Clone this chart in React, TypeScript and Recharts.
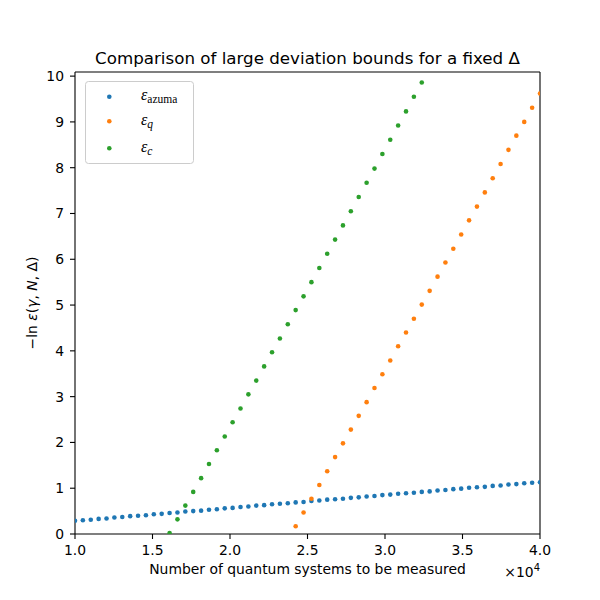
import { ScatterChart, Scatter, XAxis, YAxis, ReferenceLine } from "recharts";

// number of measured systems, N (60 evenly spaced values, 1e4 .. 4e4)
const nValues = [
  10000, 10508, 11017, 11525, 12034, 12542, 13051, 13559, 14068, 14576,
  15085, 15593, 16102, 16610, 17119, 17627, 18136, 18644, 19153, 19661,
  20169, 20678, 21186, 21695, 22203, 22712, 23220, 23729, 24237, 24746,
  25254, 25763, 26271, 26780, 27288, 27797, 28305, 28814, 29322, 29831,
  30339, 30847, 31356, 31864, 32373, 32881, 33390, 33898, 34407, 34915,
  35424, 35932, 36441, 36949, 37458, 37966, 38475, 38983, 39492, 40000,
];

const epsAzuma = [
  0.29, 0.3, 0.31, 0.33, 0.34, 0.36, 0.37, 0.39, 0.4, 0.41,
  0.43, 0.44, 0.46, 0.47, 0.49, 0.5, 0.51, 0.53, 0.54, 0.56,
  0.57, 0.59, 0.6, 0.62, 0.63, 0.65, 0.66, 0.67, 0.69, 0.7,
  0.72, 0.73, 0.75, 0.76, 0.77, 0.79, 0.8, 0.82, 0.83, 0.85,
  0.86, 0.88, 0.89, 0.9, 0.92, 0.93, 0.95, 0.96, 0.98, 0.99,
  1.01, 1.02, 1.03, 1.05, 1.06, 1.08, 1.09, 1.11, 1.12, 1.13,
];

// eps_q only positive from the 29th N onwards
const epsQStart = 28;
const epsQ = [
  0.17, 0.47, 0.77, 1.07, 1.37, 1.68, 1.98, 2.28, 2.58, 2.88,
  3.19, 3.49, 3.79, 4.1, 4.4, 4.7, 5.01, 5.31, 5.62, 5.93,
  6.23, 6.54, 6.85, 7.15, 7.46, 7.77, 8.08, 8.39, 8.7, 9.0,
  9.31, 9.62,
];

// eps_c from the 13th N, stops once it leaves the plot
const epsCStart = 12;
const epsC = [
  0.02, 0.32, 0.62, 0.92, 1.22, 1.53, 1.83, 2.13, 2.44, 2.74,
  3.05, 3.35, 3.66, 3.97, 4.27, 4.58, 4.89, 5.19, 5.5, 5.81,
  6.12, 6.43, 6.74, 7.05, 7.36, 7.67, 7.98, 8.3, 8.61, 8.92,
  9.23, 9.55, 9.86,
];

const xTicks = [10000, 15000, 20000, 25000, 30000, 35000, 40000];
const yTicks = [0, 1, 2, 3, 4, 5, 6, 7, 8, 9, 10];
const yMax = 10.09;

const azumaData = nValues.map((n, i) => ({ n, v: epsAzuma[i] }));
const qData = epsQ.map((v, i) => ({ n: nValues[epsQStart + i], v }));
const cData = epsC.map((v, i) => ({ n: nValues[epsCStart + i], v }));

const BLUE = "#1f77b4";
const ORANGE = "#ff7f0e";
const GREEN = "#2ca02c";

const font = "'DejaVu Sans', sans-serif";
const mathFont = "'Liberation Serif', 'DejaVu Serif', serif";

const dot = (color: string) => (props: any) =>
  <circle cx={props.cx} cy={props.cy} r={2.3} fill={color} />;

const tickStyle = { fontFamily: font, fontSize: 13.9, fill: "#000" };

export default function App() {
  return (
    <div style={{ position: "absolute", left: 0, top: 0, width: 600, height: 600, background: "#fff" }}>
      <ScatterChart width={600} height={600} margin={{ top: 72, right: 60, bottom: 36, left: 35 }}>
        <XAxis
          type='number'
          dataKey='n'
          domain={[10000, 40000]}
          ticks={xTicks}
          tickFormatter={(v: number) => (v / 10000).toFixed(1)}
          allowDataOverflow
          height={30}
          tickSize={5}
          tickMargin={6}
          tick={tickStyle}
          stroke='#000'
          axisLine={{ stroke: "#000", strokeWidth: 1.1 }}
          tickLine={{ stroke: "#000", strokeWidth: 1.1 }}
        />
        <YAxis
          type='number'
          dataKey='v'
          domain={[0, yMax]}
          ticks={yTicks}
          allowDataOverflow
          width={40}
          tickSize={5}
          tickMargin={6}
          tick={tickStyle}
          stroke='#000'
          axisLine={{ stroke: "#000", strokeWidth: 1.1 }}
          tickLine={{ stroke: "#000", strokeWidth: 1.1 }}
        />
        <ReferenceLine x={40000} stroke='#000' strokeWidth={1.1} />
        <ReferenceLine y={yMax} stroke='#000' strokeWidth={1.1} />
        <Scatter data={azumaData} fill={BLUE} shape={dot(BLUE)} isAnimationActive={false} />
        <Scatter data={qData} fill={ORANGE} shape={dot(ORANGE)} isAnimationActive={false} />
        <Scatter data={cData} fill={GREEN} shape={dot(GREEN)} isAnimationActive={false} />
      </ScatterChart>

      {/* title, axis labels, offset text and legend */}
      <svg width={600} height={600} style={{ position: "absolute", left: 0, top: 0, pointerEvents: "none" }}>
        <text x={307.5} y={63.5} textAnchor='middle' fontFamily={font} fontSize={16.7} fill='#000'>
          Comparison of large deviation bounds for a fixed Δ
        </text>
        <text x={307.5} y={573.5} textAnchor='middle' fontFamily={font} fontSize={13.9} fill='#000'>
          Number of quantum systems to be measured
        </text>
        <text x={540} y={577} textAnchor='end' fontFamily={font} fontSize={13.9} fill='#000'>
          ×10<tspan dy={-6} fontSize={10}>4</tspan>
        </text>
        <text
          transform='translate(37, 303) rotate(-90)'
          textAnchor='middle'
          fontFamily={font}
          fontSize={13.9}
          fill='#000'
        >
          −ln <tspan fontStyle='italic'>ε</tspan>(<tspan fontStyle='italic'>γ</tspan>,{" "}
          <tspan fontStyle='italic'>N</tspan>, Δ)
        </text>

        <rect x={85.5} y={81.5} width={108} height={82} rx={3} fill='#fff' fillOpacity={0.8} stroke='#cccccc' />
        <circle cx={109.3} cy={96.7} r={2.3} fill={BLUE} />
        <circle cx={109.3} cy={121.3} r={2.3} fill={ORANGE} />
        <circle cx={109.3} cy={148.3} r={2.3} fill={GREEN} />
        <text x={141} y={100} fontFamily={mathFont} fontSize={16} fill='#000'>
          <tspan fontStyle='italic'>ε</tspan>
          <tspan dy={3} fontSize={11.5}>azuma</tspan>
        </text>
        <text x={141} y={125} fontFamily={mathFont} fontSize={16} fill='#000'>
          <tspan fontStyle='italic'>ε</tspan>
          <tspan dy={3} fontSize={11.5} fontStyle='italic'>q</tspan>
        </text>
        <text x={141} y={152} fontFamily={mathFont} fontSize={16} fill='#000'>
          <tspan fontStyle='italic'>ε</tspan>
          <tspan dy={3} fontSize={11.5} fontStyle='italic'>c</tspan>
        </text>
      </svg>
    </div>
  );
}
